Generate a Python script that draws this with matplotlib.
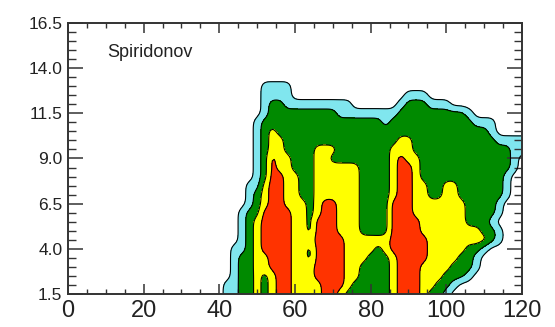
import numpy as np
import matplotlib.pyplot as plt
from matplotlib.ticker import MultipleLocator, FormatStrFormatter

plt.rcParams['font.family'] = ['Liberation Sans', 'DejaVu Sans']

# grid: x every 2 (40..120), y every 0.5 (14.0 down to 1.5)
# class per cell: 0 none, 1 cyan, 2 green, 3 yellow, 4 red
x_grid = np.arange(40, 121, 2)
y_grid = np.arange(14.0, 1.4, -0.5)
class_rows = [
    "00000000000000000000000000000000000000000",  # 14.0
    "00000000000000000000000000000000000000000",  # 13.5
    "00000011110000000000000000000000000000000",  # 13.0
    "00000011110000000000000001110000000000000",  # 12.5
    "00000012211111111100000012221110000000000",  # 12.0
    "00000012222222221111111122222222210000000",  # 11.5
    "00000122222222222222221222222222221110000",  # 11.0
    "00000123222222222222222222232222222210000",  # 10.5
    "00000123322222222222222233222222222221111",  # 10.0
    "00000123322223332222222333222222222222211",  # 9.5
    "00000124332223322222222343322222222222210",  # 9.0
    "00000124332223333332222344322223222222210",  # 8.5
    "00000124433223333332222344322222222222100",  # 8.0
    "00001134433223333332222344332233222222100",  # 7.5
    "00001234433223333332222344332233222222100",  # 7.0
    "00001234433323443332222444333333322221000",  # 6.5
    "00012244443323443332222444333333322221000",  # 6.0
    "00012344443324443332222444433333322210000",  # 5.5
    "00012344443324443332222444433333333221000",  # 5.0
    "00012344443334444333333444443333333321000",  # 4.5
    "00112344443324444333323444443333322100000",  # 4.0
    "00122334443324444333222344443333221000000",  # 3.5
    "00122334443334444332222344433332221000000",  # 3.0
    "00122323443334444332222344433322210000000",  # 2.5
    "01122323443333444322222344433221000000000",  # 2.0
    "01122323443333443222222344432210000000000",  # 1.5
]
region_colors = ['#80e6ee', '#008a00', '#ffff00', '#ff3300']

x_ticks = [0, 20, 40, 60, 80, 100, 120]
y_ticks = [1.5, 4.0, 6.5, 9.0, 11.5, 14.0, 16.5]
panel_label = 'Spiridonov'

Z = np.array([[int(c) for c in row] for row in class_rows], dtype=float)
Z = Z[::-1]
ys = y_grid[::-1]

# finer grid + light blur so the filled contours come out rounded, not blocky
fine = 4
xf = np.linspace(x_grid[0], x_grid[-1], (len(x_grid) - 1) * fine + 1)
yf = np.linspace(ys[0], ys[-1], (len(ys) - 1) * fine + 1)
tmp = np.array([np.interp(xf, x_grid, r) for r in Z])
Zf = np.array([np.interp(yf, ys, c) for c in tmp.T]).T


def blur(a, sigma):
    r = int(3 * sigma) + 1
    k = np.exp(-0.5 * (np.arange(-r, r + 1) / sigma) ** 2)
    k /= k.sum()
    p = np.pad(a, r, mode='edge')
    p = np.apply_along_axis(lambda v: np.convolve(v, k, mode='same'), 1, p)
    p = np.apply_along_axis(lambda v: np.convolve(v, k, mode='same'), 0, p)
    return p[r:-r, r:-r]


Zf = blur(Zf, 0.4 * fine)
X, Y = np.meshgrid(xf, yf)

fig = plt.figure(figsize=(5.55, 3.27), dpi=100)
ax = fig.add_axes([0.1225, 0.1009, 0.818, 0.8288])

levels = [0.5, 1.5, 2.5, 3.5, 4.5]
ax.contourf(X, Y, Zf, levels=levels, colors=region_colors)
ax.contour(X, Y, Zf, levels=levels[:-1], colors='black', linewidths=0.8)

ax.set_xlim(0, 120)
ax.set_ylim(1.5, 16.5)
ax.set_xticks(x_ticks)
ax.set_yticks(y_ticks)
ax.xaxis.set_minor_locator(MultipleLocator(5))
ax.yaxis.set_minor_locator(MultipleLocator(0.5))
ax.yaxis.set_major_formatter(FormatStrFormatter('%.1f'))

tick_col = '#333333'
ax.tick_params(axis='x', which='major', direction='in', length=7, width=1.1,
               top=True, labelsize=17, pad=4, color=tick_col, labelcolor='#222222')
ax.tick_params(axis='x', which='minor', direction='in', length=3.5, width=1.0,
               top=True, color=tick_col)
ax.tick_params(axis='y', which='major', direction='in', length=11, width=1.1,
               right=True, labelsize=12.5, pad=4, color=tick_col, labelcolor='#222222')
ax.tick_params(axis='y', which='minor', direction='in', length=5.5, width=1.0,
               right=True, color=tick_col)
for sp in ax.spines.values():
    sp.set_linewidth(1.4)
    sp.set_color(tick_col)

ax.text(0.086, 0.89, panel_label, transform=ax.transAxes, fontsize=13,
        color='#222222', va='center', ha='left')

fig.savefig('out.png', dpi=100)
